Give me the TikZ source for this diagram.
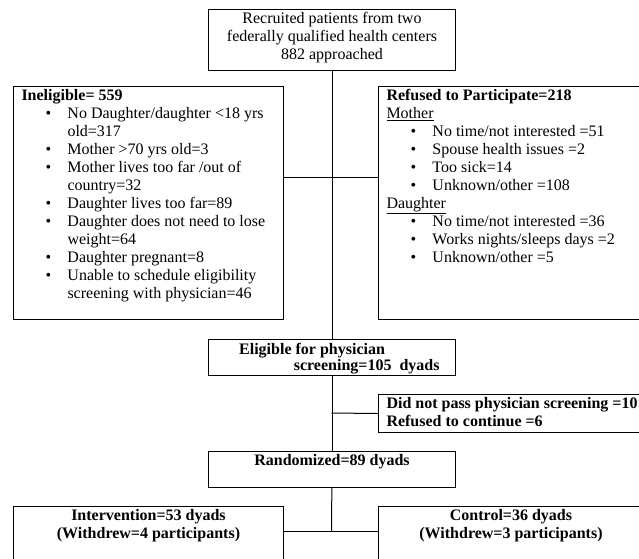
\documentclass[tikz,border=0pt]{standalone}
\usepackage{fontspec}
\setmainfont{Liberation Serif}
\newcommand{\boxtext}[3]{\parbox[t][#2][t]{#1}{#3}}
\newcommand{\itm}{\par\hangindent=34.5pt\hangafter=1\noindent\hspace*{18pt}\makebox[16.5pt][l]{\textbullet}}
\begin{document}
\begin{tikzpicture}[x=0.75pt,y=-0.75pt,every node/.style={font=\fontsize{12}{13.5}\selectfont}]
  \tikzstyle{box}=[draw,line width=0.75pt,anchor=north west,inner xsep=6pt,inner ysep=2pt]
  \useasboundingbox (0,0) rectangle (639,558);
  \clip (0,0) rectangle (639,558);
  \node[box] (recr) at (208,9) {\boxtext{173.25pt}{41.75pt}{\centering Recruited patients from two\\ federally qualified health centers\\ 882 approached}};
  \node[box] (inel) at (13,86) {\boxtext{190.5pt}{170.75pt}{\raggedright
    \textbf{Ineligible= 559}
    \itm No Daughter/daughter <18 yrs\newline old=317
    \itm Mother >70 yrs old=3
    \itm Mother lives too far /out of\newline country=32
    \itm Daughter lives too far=89
    \itm Daughter does not need to lose\newline weight=64
    \itm Daughter pregnant=8
    \itm Unable to schedule eligibility\newline screening with physician=46}};
  \node[box] (refu) at (378,86) {\boxtext{214.5pt}{170.75pt}{\raggedright
    \textbf{Refused to Participate=218}\par
    \underline{Mother}
    \itm No time/not interested =51
    \itm Spouse health issues =2
    \itm Too sick=14
    \itm Unknown/other =108
    \par\underline{Daughter}
    \itm No time/not interested =36
    \itm Works nights/sleeps days =2
    \itm Unknown/other =5}};
  \node[box] (elig) at (208,339) {\boxtext{173.25pt}{23pt}{\fontsize{12}{11.5}\selectfont\bfseries
    \vspace*{1pt}\hspace*{17pt}Eligible for physician\\ \hspace*{58pt}screening=105\ \ dyads}};
  \node[box] (dnp) at (378,394) {\boxtext{214.5pt}{24.5pt}{\bfseries Did not pass physician screening =10\\ Refused to continue =6}};
  \node[box] (rand) at (208,451) {\boxtext{173.25pt}{23pt}{\centering\bfseries Randomized=89 dyads}};
  \node[box] (intv) at (13,506) {\boxtext{190.5pt}{51.5pt}{\centering\bfseries Intervention=53 dyads\\ (Withdrew=4 participants)}};
  \node[box] (ctrl) at (378,506) {\boxtext{186.75pt}{51.5pt}{\centering\bfseries Control=36 dyads\\ (Withdrew=3 participants)}};
  % junctions on the centre line
  \coordinate (j1) at (331.5,177);
  \coordinate (j2) at (331.5,413);
  \coordinate (j3) at (331.5,531);
  \draw[line width=0.75pt] (recr) -- (elig);
  \draw[line width=0.75pt] (inel.east |- j1) -- (refu.west |- j1);
  \draw[line width=0.75pt] (elig) -- (rand);
  \draw[line width=0.75pt] (j2) -- (dnp.west);
  \draw[line width=0.75pt] (rand) -- (j3);
  \draw[line width=0.75pt] (intv.east |- j3) -- (ctrl.west |- j3);
\end{tikzpicture}
\end{document}
